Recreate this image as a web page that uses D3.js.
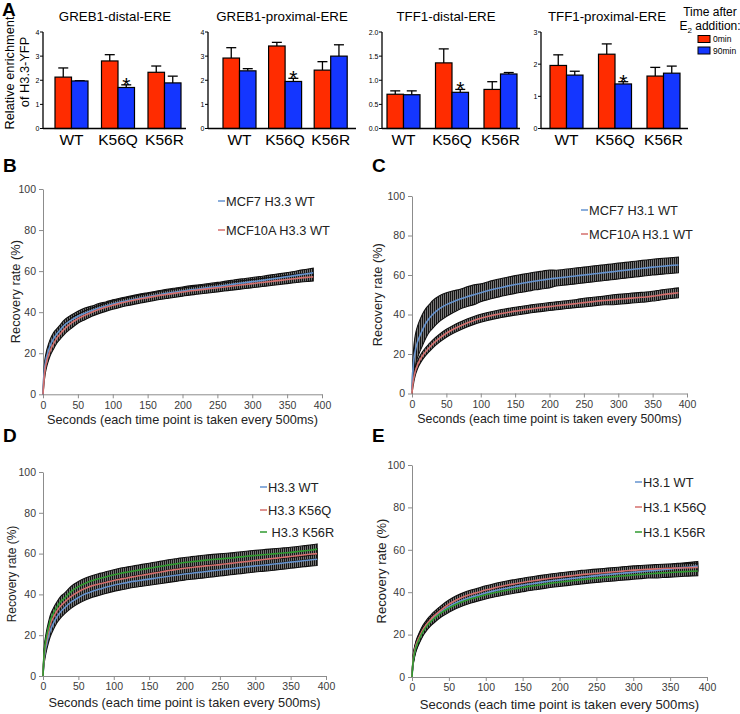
<!DOCTYPE html>
<html><head><meta charset="utf-8">
<script src="https://cdn.jsdelivr.net/npm/d3@7"></script>
<style>body{margin:0;background:#fff} svg{display:block}</style>
</head><body><svg id="c" width="740" height="714"></svg>
<script>
// ---------- Panel A data ----------
const categories = ["WT","K56Q","K56R"];
const timeLabels = ["0min","90min"];
const barTitles = ["GREB1-distal-ERE","GREB1-proximal-ERE","TFF1-distal-ERE","TFF1-proximal-ERE"];
const barMax = [4,4,2,3];
const barTicks = [[0,1,2,3,4],[0,1,2,3,4],[0,0.5,1,1.5,2],[0,1,2,3]];
const min0 = [[2.13,2.8,2.33],[2.92,3.42,2.42],[0.71,1.36,0.81],[1.96,2.31,1.63]];
const min0Err = [[0.38,0.26,0.26],[0.43,0.15,0.35],[0.07,0.29,0.16],[0.33,0.32,0.27]];
const min90 = [[1.97,1.7,1.89],[2.39,1.95,3.0],[0.7,0.75,1.13],[1.66,1.385,1.72]];
const min90Err = [[0.01,0.11,0.28],[0.09,0.13,0.47],[0.08,0.06,0.03],[0.12,0.07,0.22]];
const starFlags = [[0,1,0],[0,1,0],[0,1,0],[0,1,0]];

// ---------- FRAP data (seconds) ----------
const T = [0,1,2,3,5,7.5,10,15,20,25,30,
 40,50,60,70,80,90,100,110,120,130,
 140,150,160,170,180,190,200,210,220,230,
 240,250,260,270,280,290,300,310,320,330,
 340,350,360,370,380,387.5];
const xTicks = [0,50,100,150,200,250,300,350,400];
const yTicks = [0,20,40,60,80,100];

const B_mcf7 = [0,8,12,14.5,18,21,23.5,27,29.5,31.5,33.5,
 36,38,39.5,40.8,42,43,44,44.8,45.5,46.2,
 46.9,47.5,48.1,48.7,49.3,49.8,50.3,50.8,51.2,51.6,
 52.1,52.5,53,53.5,54,54.4,54.9,55.3,55.8,56.3,
 56.8,57.3,57.8,58.3,58.8,59.2];
const B_mcf7Err = [0,2,2.5,3,3,3,3,3,2.5,2.5,2.5,
 2.5,2.5,2.5,2.2,2.2,2,2,2,2,2,
 2,2,2,2,2,2,2,2,2,2,
 2,2,2,2,2,2,2,2,2,2,
 2,2,2,2.2,2.2,2.2];
const B_mcf10a = [0,5,9,12,15.5,18.5,21,24.5,27.5,29.5,31.5,
 34.5,36.8,38.5,40,41.3,42.4,43.4,44.3,45.1,45.8,
 46.5,47.1,47.7,48.3,48.8,49.3,49.8,50.3,50.7,51.1,
 51.5,51.9,52.3,52.7,53.1,53.5,53.9,54.3,54.7,55.1,
 55.5,55.9,56.3,56.7,57,57.2];
const B_mcf10aErr = [0,1.5,2,2.5,2.5,2.5,2.5,2.5,2.5,2.5,2.5,
 2.5,2.2,2.2,2,2,2,2,2,2,2,
 2,2,2,2,2,2,2,2,2,2,
 2,2,2,2,2,2,2,2,2,2,
 2,2,2,2,2,2];

const C_mcf7 = [2,10,15,18,22,25.5,28,32,35.5,38,40,
 43,45,46.5,47.8,49,50,51,52,52.9,53.7,
 54.5,55.2,55.8,56.4,57,57.5,58,58.4,58.8,59.2,
 59.6,60,60.4,60.8,61.2,61.6,62,62.4,62.8,63.2,
 63.6,64,64.3,64.6,64.9,65.1];
const C_mcf7Err = [0,4,6,7,8,8,8,8,7.5,7,7,
 6.5,6,5.5,5,5,5,4.5,4.5,4.5,4.5,
 4.5,4.5,4.5,4.5,4.5,4.5,4.5,4,4,4,
 4,4,4,4,4,4,4,4,4,4,
 4,4,4,4,4,4];
const C_mcf10a = [0,4,6.5,8.5,11.5,14,16,19,21.3,23.2,25,
 28,30.5,32.5,34.2,35.7,37,38.1,39,39.8,40.5,
 41.1,41.7,42.2,42.7,43.2,43.6,44,44.4,44.8,45.2,
 45.6,46,46.4,46.8,47.1,47.4,47.7,48,48.3,48.6,
 48.9,49.3,49.8,50.3,50.7,51];
const C_mcf10aErr = [0,1.5,2,2,2,2,2,2,2,2,2,
 2,2,2,2,2,2,2,2,2,2,
 2,2,2,2,2,2,2,2,2,2,
 2,2.2,2.2,2.2,2.2,2.5,2.5,2.5,2.5,2.5,
 2.5,2.5,2.5,2.5,2.5,2.5];

const D_wt = [0,6,9.5,12,15.5,19,22,26,29.2,31.5,33.3,
 36.3,38.5,40.3,41.6,42.6,43.6,44.5,45.2,45.9,46.5,
 47,47.5,48,48.5,49,49.5,50,50.4,50.8,51.2,
 51.6,52,52.4,52.8,53.2,53.6,54,54.3,54.6,55,
 55.4,55.8,56.2,56.6,57,57.2];
const D_wtErr = [0,2,2.5,3,3,3,3,3,3,3,3,
 3,3,3,3,3,3,3,3,3,3,
 3,3,3,3,3,3,3,3,3,3,
 3,3,3,3,3,3,3,3,3,3,
 3,3,3,3,3,3];
const D_k56q = [0,7,11,14,17.5,21.5,25,29,32,34.3,36,
 39,41.3,43,44.3,45.2,46,46.8,47.5,48.2,48.8,
 49.4,50,50.6,51.2,51.8,52.3,52.8,53.2,53.6,54,
 54.3,54.6,55,55.4,55.8,56.2,56.6,57,57.4,57.8,
 58.2,58.6,59,59.4,59.8,60];
const D_k56qErr = [0,2,2.5,2.5,2.5,2.5,2.5,2.5,2.5,2.5,2.5,
 2.5,2.5,2.5,2.5,2.5,2.5,2.5,2.5,2.5,2.5,
 2.5,2.5,2.5,2.5,2.5,2.5,2.5,2.5,2.5,2.5,
 2.5,2.5,2.5,2.5,2.5,2.5,2.5,2.5,2.5,2.5,
 2.5,2.5,2.5,2.5,2.5,2.5];
const D_k56r = [0,8,12.5,15.5,19.5,23.5,27,31,34,36.5,38,
 41.5,43.8,45.5,46.8,47.8,48.7,49.6,50.4,51,51.6,
 52.2,52.8,53.4,54,54.6,55.1,55.6,56,56.4,56.8,
 57.1,57.4,57.7,58,58.4,58.8,59.1,59.4,59.7,60,
 60.3,60.6,61,61.4,61.8,62.2];
const D_k56rErr = [0,2,2.5,2.5,2.5,2.5,2.5,2.5,2.5,2.5,2.5,
 2.5,2.5,2.5,2.5,2.5,2.5,2.5,2.5,2.5,2.5,
 2.5,2.5,2.5,2.5,2.5,2.5,2.5,2.5,2.5,2.5,
 2.5,2.5,2.5,2.5,2.5,2.5,2.5,2.5,2.5,2.5,
 2.5,2.5,2.5,2.5,2.5,2.5];

const E_wt = [0,5.5,9,11,14,16.5,18.5,22,24.5,26.5,28.2,
 31,33.2,35,36.4,37.6,38.6,39.6,40.5,41.3,42,
 42.7,43.3,43.9,44.4,44.9,45.4,45.8,46.2,46.6,47,
 47.4,47.8,48.2,48.5,48.8,49.1,49.4,49.7,50,50.3,
 50.6,51,51.4,51.7,52,52.3];
const E_wtErr = [0,1.5,2,2,2,2,2,2,2,2,2,
 2,2,2,2,2,2,2,2,2,2,
 2,2,2,2,2,2,2,2,2,2,
 2,2,2,2,2,2,2,2,2,2.2,
 2.2,2.2,2.2,2.2,2.2,2.2];
const E_k56q = [0,6,9.5,11.5,14.5,17,19,22.5,25,27,28.8,
 31.8,34.3,36.3,37.8,39,40,41,41.9,42.7,43.4,
 44,44.6,45.2,45.7,46.2,46.7,47.1,47.5,47.9,48.3,
 48.6,48.9,49.2,49.5,49.8,50.1,50.4,50.6,50.8,51,
 51.2,51.3,51.4,51.5,51.6,51.7];
const E_k56qErr = [0,1.5,2,2,2,2,2,2,2,2,2,
 2,2,2,2,2,2,2,2,2,2,
 2,2,2,2,2,2,2,2,2,2,
 2,2,2,2,2,2,2,2,2,2,
 2,2,2,2,2,2];
const E_k56r = [0,5.5,8.5,10.5,13.5,16,18,21.5,24,26,27.6,
 30.4,32.5,34.3,35.7,36.9,37.9,38.8,39.6,40.3,41,
 41.6,42.2,42.8,43.3,43.8,44.3,44.7,45.1,45.5,45.9,
 46.3,46.6,46.9,47.2,47.5,47.8,48.1,48.4,48.7,48.9,
 49.1,49.3,49.5,49.7,49.9,50];
const E_k56rErr = [0,1.5,2,2,2,2,2,2,2,2,2,
 2,2,2,2,2,2,2,2,2,2,
 2,2,2,2,2,2,2,2,2,2,
 2,2,2,2,2,2,2,2,2,2.2,
 2.2,2.2,2.2,2.2,2.2,2.2];

const legendB = ["MCF7 H3.3 WT","MCF10A H3.3 WT"];
const legendC = ["MCF7 H3.1 WT","MCF10A H3.1 WT"];
const legendD = ["H3.3 WT","H3.3 K56Q"," H3.3 K56R"];
const legendE = ["H3.1 WT","H3.1 K56Q","H3.1 K56R"];

// ---------- styles ----------
const FONT = "'Liberation Sans', Arial, Helvetica, sans-serif";
const RED_BAR = "#ff2c00", BLUE_BAR = "#1436ff";
const LBLUE = "#6593cf", LRED = "#d46f6d", LGREEN = "#2f9a2f";

const svg = d3.select("#c").attr("font-family", FONT);
const defs = svg.append("defs");
const pat = defs.append("pattern").attr("id","ebar").attr("patternUnits","userSpaceOnUse")
  .attr("width",2).attr("height",6);
pat.append("rect").attr("width",2).attr("height",6).attr("fill","#777");
pat.append("rect").attr("width",1).attr("height",6).attr("fill","#151515");

// ---------- Panel A ----------
svg.append("text").attr("x",2).attr("y",16).attr("font-size",19).attr("font-weight","bold").text("A");
const barLayout = [
  {ax:43, axEnd:186, g0:55, step:46.5, tx:115},
  {ax:208, axEnd:356, g0:223, step:45.6, tx:282},
  {ax:382, axEnd:520, g0:387, step:48.5, tx:446},
  {ax:541, axEnd:688, g0:550, step:48.5, tx:607}];
const gw = 33;
barLayout.forEach((L,i)=>{
  const g = svg.append("g");
  const x = d3.scaleBand().domain(categories).range([L.g0, L.g0 + 2*L.step + gw])
    .paddingInner((L.step-gw)/L.step).paddingOuter(0);
  const xs = d3.scaleBand().domain(timeLabels).range([0, x.bandwidth()]);
  const y = d3.scaleLinear().domain([0, barMax[i]]).range([128.5, 32]);
  const rows = [];
  categories.forEach((c,j)=>{
    rows.push({c, s:"0min", v:min0[i][j], e:min0Err[i][j], star:0});
    rows.push({c, s:"90min", v:min90[i][j], e:min90Err[i][j], star:starFlags[i][j]});
  });
  rows.forEach(r=>{
    const cx = x(r.c)+xs(r.s)+xs.bandwidth()/2;
    g.append("line").attr("x1",cx).attr("x2",cx).attr("y1",y(r.v)).attr("y2",y(r.v+r.e))
      .attr("stroke","#000").attr("stroke-width",1.3);
    g.append("line").attr("x1",cx-5).attr("x2",cx+5).attr("y1",y(r.v+r.e)).attr("y2",y(r.v+r.e))
      .attr("stroke","#000").attr("stroke-width",1.3);
  });
  g.selectAll("rect.bar").data(rows).join("rect").attr("class","bar")
    .attr("x",d=>x(d.c)+xs(d.s)).attr("width",xs.bandwidth())
    .attr("y",d=>y(d.v)).attr("height",d=>y(0)-y(d.v))
    .attr("fill",d=>d.s==="0min"?RED_BAR:BLUE_BAR).attr("stroke","#000").attr("stroke-width",1.2);
  rows.filter(r=>r.star).forEach(r=>{
    g.append("text").attr("x",x(r.c)+xs(r.s)+xs.bandwidth()/2).attr("y",y(r.v+r.e)+7)
      .attr("text-anchor","middle").attr("font-size",21).text("*");
  });
  g.append("line").attr("x1",L.ax).attr("x2",L.ax).attr("y1",y(0)).attr("y2",y(barMax[i]))
    .attr("stroke","#000").attr("stroke-width",1.3);
  g.append("line").attr("x1",L.ax).attr("x2",L.axEnd).attr("y1",y(0)).attr("y2",y(0))
    .attr("stroke","#000").attr("stroke-width",1.3);
  const fmt = i===2 ? d3.format(".1f") : d3.format("d");
  barTicks[i].forEach(t=>{
    g.append("line").attr("x1",L.ax-3).attr("x2",L.ax).attr("y1",y(t)).attr("y2",y(t))
      .attr("stroke","#000").attr("stroke-width",1);
    g.append("text").attr("x",L.ax-3.5).attr("y",y(t)+2.5).attr("text-anchor","end")
      .attr("font-size",7).text(fmt(t));
  });
  categories.forEach(c=>{
    g.append("text").attr("x",x(c)+x.bandwidth()/2).attr("y",145).attr("text-anchor","middle")
      .attr("font-size",15.5).text(c);
  });
  g.append("text").attr("x",L.tx).attr("y",21).attr("text-anchor","middle").attr("font-size",13.3)
    .text(barTitles[i]);
});
svg.append("text").attr("transform","translate(14,73) rotate(-90)").attr("text-anchor","middle")
  .attr("font-size",12.8).text("Relative enrichment");
svg.append("text").attr("transform","translate(29,72) rotate(-90)").attr("text-anchor","middle")
  .attr("font-size",12.8).text("of H3.3-YFP");
svg.append("text").attr("x",710).attr("y",16).attr("text-anchor","middle").attr("font-size",12).text("Time after");
const e2 = svg.append("text").attr("x",710).attr("y",30).attr("text-anchor","middle").attr("font-size",12);
e2.append("tspan").text("E");
e2.append("tspan").attr("font-size",8).attr("dy",3).text("2");
e2.append("tspan").attr("dy",-3).text(" addition:");
timeLabels.forEach((t,k)=>{
  svg.append("rect").attr("x",698).attr("y",35.5+k*11.5).attr("width",12).attr("height",7)
    .attr("fill",k===0?RED_BAR:BLUE_BAR).attr("stroke","#000").attr("stroke-width",1);
  svg.append("text").attr("x",713).attr("y",42+k*11.5).attr("font-size",8.5).text(t);
});

// ---------- FRAP panels ----------
function linePanel(cfg){
  const x = d3.scaleLinear().domain([0,400]).range([cfg.x0,cfg.x1]);
  const y = d3.scaleLinear().domain([0,100]).range([cfg.yb,cfg.yt]);
  const g = svg.append("g");
  const xa = g.append("g").attr("transform",`translate(0,${cfg.yb})`)
    .call(d3.axisBottom(x).tickValues(xTicks).tickSize(4).tickSizeOuter(0).tickPadding(3));
  const ya = g.append("g").attr("transform",`translate(${cfg.x0},0)`)
    .call(d3.axisLeft(y).tickValues(yTicks).tickSize(4).tickSizeOuter(0).tickPadding(3));
  [xa,ya].forEach(a=>{
    a.attr("font-family",FONT).attr("font-size",10.5);
    a.selectAll("path,line").attr("stroke","#8c8c8c");
    a.selectAll("text").attr("fill","#3a3a3a");
  });
  const series = cfg.means.map((m,k)=>T.map((t,i)=>({t, m:m[i], e:cfg.errs[k][i]})));
  const area = d3.area().x(d=>x(d.t)).y0(d=>y(Math.max(0,d.m-d.e))).y1(d=>y(d.m+d.e))
    .curve(d3.curveMonotoneX);
  const line = d3.line().x(d=>x(d.t)).y(d=>y(d.m)).curve(d3.curveMonotoneX);
  series.forEach(s=>{
    g.append("path").attr("d",area(s)).attr("fill","url(#ebar)")
      .attr("stroke","#111").attr("stroke-width",1.1);
  });
  series.forEach((s,k)=>{
    g.append("path").attr("d",line(s)).attr("fill","none").attr("stroke",cfg.colors[k])
      .attr("stroke-width",1.6);
  });
  g.append("text").attr("transform",`translate(${cfg.ytx},${(cfg.yb+cfg.yt)/2}) rotate(-90)`)
    .attr("text-anchor","middle").attr("font-size",cfg.ytfs).attr("fill","#222").text("Recovery rate (%)");
  g.append("text").attr("x",(cfg.x0+cfg.x1)/2).attr("y",cfg.xty).attr("text-anchor","middle")
    .attr("font-size",cfg.xtfs).attr("fill","#222").text("Seconds (each time point is taken every 500ms)");
  g.append("text").attr("x",cfg.lx).attr("y",cfg.ly).attr("font-size",19).attr("font-weight","bold").text(cfg.letter);
  cfg.legend.forEach((name,k)=>{
    const yy = cfg.legY[k];
    g.append("line").attr("x1",cfg.legX).attr("x2",cfg.legX+7).attr("y1",yy).attr("y2",yy)
      .attr("stroke",cfg.colors[k]).attr("stroke-width",1.5);
    g.append("text").attr("x",cfg.legX+8).attr("y",yy+4.5).attr("font-size",12.8).attr("fill","#222")
      .style("white-space","pre").text(name);
  });
}

linePanel({x0:43,x1:322,yb:394.3,yt:189,means:[B_mcf7,B_mcf10a],errs:[B_mcf7Err,B_mcf10aErr],
  colors:[LBLUE,LRED],legend:legendB,legX:218,legY:[201,230],
  ytx:20,ytfs:12.8,xty:424,xtfs:12.7,letter:"B",lx:3,ly:172});
linePanel({x0:412,x1:687,yb:393.5,yt:196,means:[C_mcf7,C_mcf10a],errs:[C_mcf7Err,C_mcf10aErr],
  colors:[LBLUE,LRED],legend:legendC,legX:581,legY:[210,234],
  ytx:382,ytfs:12.8,xty:423,xtfs:12.4,letter:"C",lx:372,ly:172});
linePanel({x0:43,x1:326,yb:676,yt:472,means:[D_wt,D_k56q,D_k56r],errs:[D_wtErr,D_k56qErr,D_k56rErr],
  colors:[LBLUE,LRED,LGREEN],legend:legendD,legX:260,legY:[487,510,532],
  ytx:15.5,ytfs:12,xty:707,xtfs:12.75,letter:"D",lx:3,ly:442});
linePanel({x0:412,x1:707,yb:677,yt:465,means:[E_wt,E_k56q,E_k56r],errs:[E_wtErr,E_k56qErr,E_k56rErr],
  colors:[LBLUE,LRED,LGREEN],legend:legendE,legX:635,legY:[482,507,532],
  ytx:386,ytfs:13,xty:709,xtfs:13.1,letter:"E",lx:372,ly:442});
</script></body></html>
